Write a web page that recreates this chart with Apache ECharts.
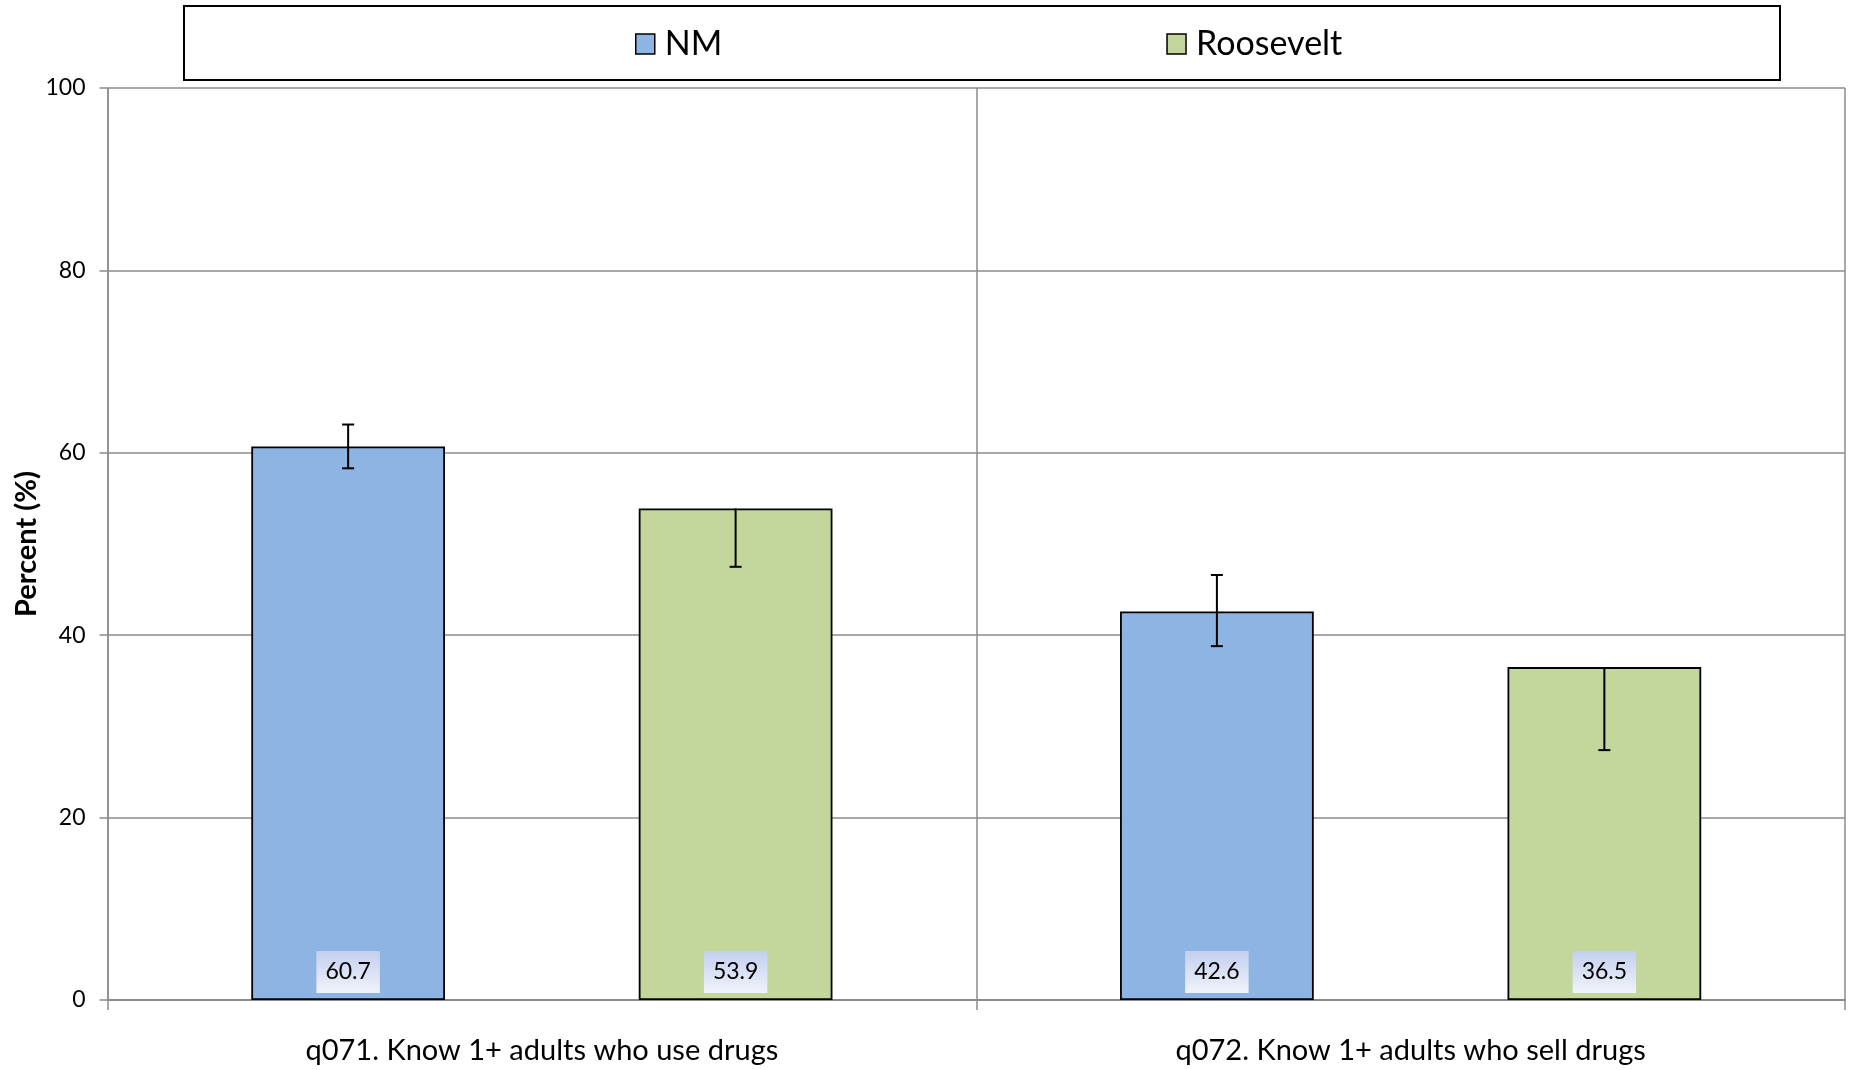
<!DOCTYPE html>
<html>
<head>
<meta charset="utf-8">
<script src="https://cdn.jsdelivr.net/npm/echarts@6/dist/echarts.min.js"></script>
<style>
html,body{margin:0;padding:0;background:#fff;}
#chart{width:1851px;height:1070px;}
</style>
</head>
<body>
<div id="chart"></div>
<script>
const categories = ['q071. Know 1+ adults who use drugs', 'q072. Know 1+ adults who sell drugs'];
const seriesNames = ['NM', 'Roosevelt'];
const nmValues = [60.7, 42.6];
const nmLow = [58.3, 38.8];
const nmHigh = [63.1, 46.6];
const rooseveltValues = [53.9, 36.5];
const rooseveltLow = [47.5, 27.4];
const rooseveltHigh = [null, null]; // upper whisker not shown in reference
const yTicks = [0, 20, 40, 60, 80, 100];

const FONT = 'Lato, "Open Sans", sans-serif';
const GRID_COLOR = '#8c8c8c';
const colors = ['#8EB4E3', '#C3D69B'];

const chart = echarts.init(document.getElementById('chart'), null, {renderer: 'canvas'});

function labelBg() {
  return new echarts.graphic.LinearGradient(0, 0, 0, 1, [
    {offset: 0, color: '#C3CFEF'},
    {offset: 1, color: '#F0F3FA'}
  ]);
}

function barSeries(name, values, color) {
  return {
    name: name,
    type: 'bar',
    data: values,
    barWidth: '22.3%',
    barGap: '100%',
    itemStyle: {color: color, borderColor: '#000', borderWidth: 1.8},
    label: {
      show: true,
      position: 'insideBottom',
      distance: 7,
      formatter: p => p.value.toFixed(1),
      fontFamily: FONT,
      fontSize: 23,
      color: '#000',
      lineHeight: 24,
      padding: [9, 9, 9, 9],
      backgroundColor: labelBg()
    },
    z: 2
  };
}

function errorSeries(seriesIndex, lows, highs) {
  const data = categories.map((c, i) => [i, lows[i], highs[i] == null ? NaN : highs[i]]);
  return {
    type: 'custom',
    z: 5,
    silent: true,
    data: data,
    renderItem: function (params, api) {
      const idx = api.value(0);
      const low = api.value(1);
      const high = api.value(2);
      const bandW = api.size([1, 0])[0];
      const barW = bandW * 0.223;
      const center = api.coord([idx, 0])[0];
      const offset = seriesIndex === 0 ? -barW : barW;
      const x = center + offset;
      const val = seriesIndex === 0 ? nmValues[idx] : rooseveltValues[idx];
      const yLow = api.coord([idx, low])[1];
      const yVal = api.coord([idx, val])[1];
      const children = [];
      const cap = 6;
      const style = {stroke: '#000', lineWidth: 2};
      let yTop = yVal;
      if (!isNaN(high)) {
        yTop = api.coord([idx, high])[1];
        children.push({type: 'line', shape: {x1: x - cap, y1: yTop, x2: x + cap, y2: yTop}, style: style});
      }
      children.push({type: 'line', shape: {x1: x, y1: yTop, x2: x, y2: yLow}, style: style});
      children.push({type: 'line', shape: {x1: x - cap, y1: yLow, x2: x + cap, y2: yLow}, style: style});
      return {type: 'group', children: children};
    }
  };
}

const option = {
  animation: false,
  backgroundColor: '#fff',
  grid: {left: 107.5, right: 6, top: 88, bottom: 70, containLabel: false, outerBoundsMode: 'none'},
  graphic: [{
    type: 'rect',
    shape: {x: 184, y: 6, width: 1596, height: 74},
    style: {fill: '#fff', stroke: '#000', lineWidth: 2},
    z: 0
  }],
  legend: {
    data: seriesNames,
    left: 630,
    top: 22,
    itemWidth: 19,
    itemHeight: 20,
    itemGap: 444,
    icon: 'rect',
    itemStyle: {borderColor: '#000', borderWidth: 1.5},
    textStyle: {fontFamily: FONT, fontSize: 34, color: '#000', padding: [0, 0, 0, 5]},
    z: 3
  },
  xAxis: {
    type: 'category',
    data: categories,
    boundaryGap: true,
    axisLine: {show: true, lineStyle: {color: GRID_COLOR, width: 2}},
    axisTick: {show: true, length: 10, lineStyle: {color: GRID_COLOR, width: 1.5}},
    axisLabel: {fontFamily: FONT, fontSize: 29, color: '#000', margin: 36},
    splitLine: {show: true, lineStyle: {color: GRID_COLOR, width: 1.5}}
  },
  yAxis: {
    type: 'value',
    min: 0,
    max: 100,
    interval: 20,
    name: 'Percent (%)',
    nameLocation: 'middle',
    nameGap: 66,
    nameMoveOverlap: false,
    nameRotate: 90,
    nameTextStyle: {fontFamily: FONT, fontSize: 29, fontWeight: 'bold', color: '#000'},
    axisLine: {show: true, lineStyle: {color: GRID_COLOR, width: 1.5}},
    axisTick: {show: true, length: 8, lineStyle: {color: GRID_COLOR, width: 1.5}},
    axisLabel: {fontFamily: FONT, fontSize: 23, color: '#000', margin: 22,
      formatter: v => yTicks.includes(v) ? String(v) : ''},
    splitLine: {show: true, lineStyle: {color: GRID_COLOR, width: 1.5}}
  },
  series: [
    barSeries(seriesNames[0], nmValues, colors[0]),
    barSeries(seriesNames[1], rooseveltValues, colors[1]),
    errorSeries(0, nmLow, nmHigh),
    errorSeries(1, rooseveltLow, rooseveltHigh)
  ]
};

chart.setOption(option);
</script>
</body>
</html>
